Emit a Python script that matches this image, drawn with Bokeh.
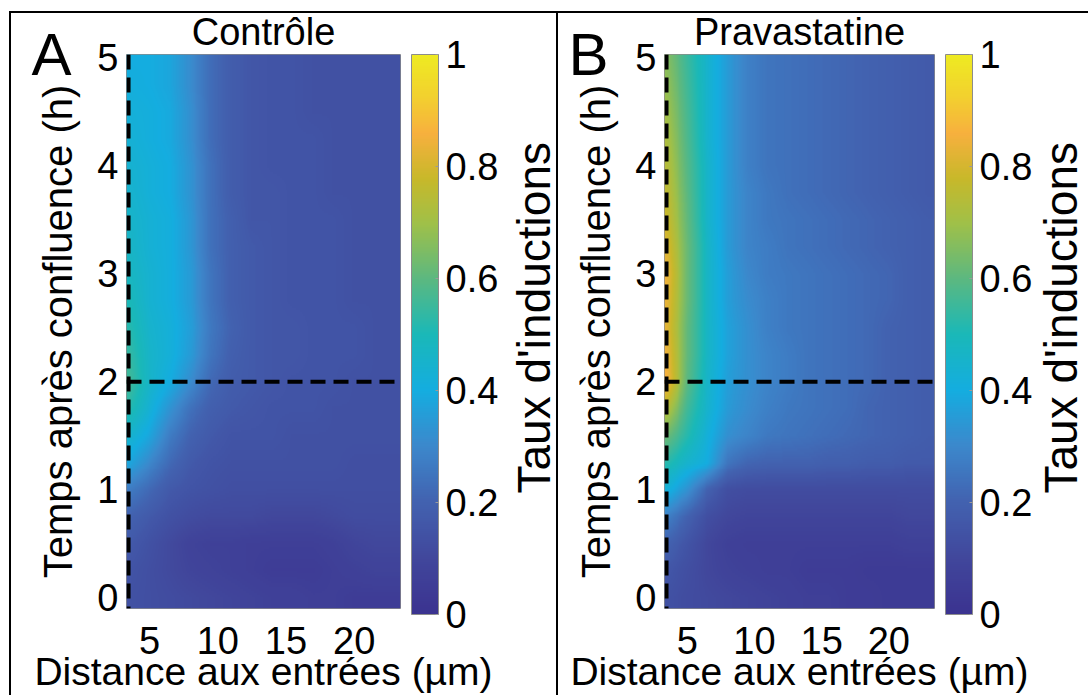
import numpy as np
from bokeh.plotting import figure
from bokeh.layouts import row
from bokeh.models import (LinearColorMapper, ColorBar, FixedTicker, Range1d, Span,
                          LinearAxis, CustomJSTickFormatter)
from bokeh.embed import file_html
from bokeh.resources import INLINE

FONT = "Liberation Sans"

# ---------------- data ----------------
x_cols = [3.5, 5.0, 6.5, 8.0, 9.5, 11.0, 12.5, 14.0, 15.5, 17.0, 18.5, 20.0, 21.5, 23.0]   # µm
t_rows = [0.0, 0.25, 0.5, 0.75, 1.0, 1.25, 1.5, 1.75, 2.0, 2.25, 2.5, 2.75, 3.0, 3.25,
          3.5, 3.75, 4.0, 4.25, 4.5, 4.75, 5.0]                                           # h

controle = [
    [0.14, 0.13, 0.12, 0.11, 0.10, 0.09, 0.08, 0.07, 0.07, 0.06, 0.06, 0.05, 0.05, 0.05],
    [0.15, 0.13, 0.11, 0.09, 0.08, 0.07, 0.06, 0.05, 0.05, 0.05, 0.06, 0.07, 0.08, 0.08],
    [0.17, 0.14, 0.11, 0.08, 0.07, 0.07, 0.06, 0.06, 0.06, 0.06, 0.07, 0.09, 0.10, 0.10],
    [0.20, 0.17, 0.14, 0.12, 0.11, 0.11, 0.11, 0.10, 0.10, 0.10, 0.11, 0.12, 0.12, 0.12],
    [0.27, 0.22, 0.17, 0.15, 0.14, 0.13, 0.13, 0.13, 0.13, 0.13, 0.13, 0.13, 0.13, 0.13],
    [0.38, 0.30, 0.22, 0.17, 0.15, 0.14, 0.14, 0.14, 0.14, 0.14, 0.14, 0.13, 0.13, 0.13],
    [0.45, 0.38, 0.27, 0.20, 0.17, 0.15, 0.15, 0.15, 0.14, 0.14, 0.14, 0.14, 0.14, 0.14],
    [0.52, 0.43, 0.33, 0.24, 0.19, 0.17, 0.16, 0.15, 0.15, 0.15, 0.14, 0.14, 0.14, 0.14],
    [0.56, 0.46, 0.40, 0.31, 0.22, 0.18, 0.17, 0.16, 0.15, 0.15, 0.15, 0.14, 0.14, 0.14],
    [0.54, 0.46, 0.42, 0.35, 0.25, 0.19, 0.17, 0.16, 0.16, 0.15, 0.15, 0.15, 0.14, 0.14],
    [0.52, 0.45, 0.42, 0.36, 0.26, 0.20, 0.17, 0.16, 0.16, 0.15, 0.15, 0.15, 0.14, 0.14],
    [0.50, 0.44, 0.41, 0.35, 0.25, 0.19, 0.17, 0.16, 0.15, 0.15, 0.15, 0.14, 0.14, 0.14],
    [0.48, 0.44, 0.41, 0.35, 0.25, 0.19, 0.17, 0.16, 0.15, 0.15, 0.15, 0.14, 0.14, 0.14],
    [0.47, 0.43, 0.41, 0.34, 0.24, 0.19, 0.17, 0.16, 0.15, 0.15, 0.15, 0.14, 0.14, 0.14],
    [0.46, 0.43, 0.41, 0.34, 0.24, 0.19, 0.16, 0.16, 0.15, 0.15, 0.15, 0.14, 0.14, 0.14],
    [0.45, 0.42, 0.40, 0.33, 0.24, 0.18, 0.16, 0.16, 0.15, 0.15, 0.14, 0.14, 0.14, 0.14],
    [0.44, 0.42, 0.40, 0.33, 0.24, 0.18, 0.16, 0.15, 0.15, 0.15, 0.14, 0.14, 0.14, 0.14],
    [0.43, 0.41, 0.39, 0.32, 0.23, 0.18, 0.16, 0.15, 0.15, 0.15, 0.14, 0.14, 0.14, 0.14],
    [0.42, 0.41, 0.39, 0.32, 0.23, 0.18, 0.16, 0.15, 0.15, 0.14, 0.14, 0.14, 0.14, 0.14],
    [0.41, 0.40, 0.38, 0.31, 0.23, 0.18, 0.16, 0.15, 0.15, 0.14, 0.14, 0.14, 0.14, 0.14],
    [0.40, 0.40, 0.38, 0.31, 0.23, 0.18, 0.16, 0.15, 0.15, 0.14, 0.14, 0.14, 0.14, 0.14],
]

pravastatine = [
    [0.14, 0.12, 0.11, 0.10, 0.09, 0.08, 0.07, 0.06, 0.06, 0.05, 0.05, 0.04, 0.04, 0.04],
    [0.16, 0.13, 0.10, 0.08, 0.07, 0.06, 0.06, 0.05, 0.05, 0.05, 0.04, 0.04, 0.04, 0.04],
    [0.20, 0.15, 0.10, 0.07, 0.06, 0.06, 0.06, 0.06, 0.06, 0.06, 0.06, 0.06, 0.07, 0.07],
    [0.28, 0.20, 0.13, 0.10, 0.09, 0.09, 0.09, 0.09, 0.09, 0.09, 0.09, 0.09, 0.10, 0.10],
    [0.42, 0.33, 0.20, 0.13, 0.12, 0.12, 0.12, 0.12, 0.12, 0.12, 0.12, 0.12, 0.12, 0.12],
    [0.52, 0.45, 0.40, 0.25, 0.21, 0.20, 0.20, 0.20, 0.19, 0.19, 0.18, 0.18, 0.17, 0.17],
    [0.62, 0.52, 0.42, 0.32, 0.29, 0.26, 0.25, 0.24, 0.23, 0.22, 0.21, 0.20, 0.19, 0.18],
    [0.74, 0.56, 0.45, 0.35, 0.31, 0.28, 0.26, 0.25, 0.24, 0.23, 0.21, 0.20, 0.19, 0.18],
    [0.86, 0.60, 0.46, 0.36, 0.32, 0.29, 0.27, 0.25, 0.24, 0.23, 0.22, 0.20, 0.19, 0.18],
    [0.84, 0.61, 0.47, 0.37, 0.32, 0.29, 0.27, 0.25, 0.24, 0.23, 0.22, 0.20, 0.19, 0.18],
    [0.82, 0.61, 0.47, 0.37, 0.32, 0.28, 0.26, 0.25, 0.24, 0.23, 0.22, 0.20, 0.19, 0.18],
    [0.83, 0.62, 0.47, 0.36, 0.31, 0.28, 0.26, 0.25, 0.24, 0.23, 0.22, 0.21, 0.19, 0.18],
    [0.84, 0.62, 0.47, 0.36, 0.30, 0.27, 0.26, 0.25, 0.24, 0.23, 0.22, 0.21, 0.19, 0.18],
    [0.81, 0.62, 0.47, 0.35, 0.29, 0.27, 0.25, 0.24, 0.23, 0.22, 0.21, 0.20, 0.19, 0.18],
    [0.78, 0.61, 0.46, 0.35, 0.29, 0.26, 0.25, 0.24, 0.23, 0.22, 0.21, 0.20, 0.19, 0.18],
    [0.76, 0.60, 0.46, 0.35, 0.29, 0.26, 0.24, 0.23, 0.22, 0.21, 0.20, 0.19, 0.18, 0.17],
    [0.74, 0.59, 0.46, 0.35, 0.28, 0.25, 0.24, 0.23, 0.22, 0.21, 0.20, 0.19, 0.18, 0.17],
    [0.72, 0.58, 0.45, 0.35, 0.28, 0.25, 0.24, 0.23, 0.22, 0.21, 0.20, 0.19, 0.18, 0.17],
    [0.70, 0.57, 0.45, 0.35, 0.28, 0.25, 0.24, 0.23, 0.22, 0.21, 0.20, 0.19, 0.18, 0.17],
    [0.68, 0.56, 0.45, 0.35, 0.28, 0.25, 0.24, 0.23, 0.22, 0.21, 0.20, 0.19, 0.18, 0.17],
    [0.66, 0.55, 0.45, 0.35, 0.28, 0.25, 0.24, 0.23, 0.22, 0.21, 0.20, 0.19, 0.18, 0.17],
]

x_ticks = [5, 10, 15, 20]
y_ticks = [0, 1, 2, 3, 4, 5]
cbar_ticks = [0, 0.2, 0.4, 0.6, 0.8, 1]
cbar_labels = ["0", "0.2", "0.4", "0.6", "0.8", "1"]
x_lim = (3.3, 23.4)
t_lim = (-0.1, 5.03)
entry_x = 3.45         # entrance position (dashed vertical)
threshold_t = 2.0      # dashed horizontal (h)

# ---------------- colour map (parula-like) ----------------
anchor_pos = [0.0, 0.10, 0.20, 0.30, 0.40, 0.50, 0.60, 0.70, 0.78, 0.86, 0.93, 1.0]
anchor_hex = ["#3b3390", "#41479c", "#4262b0", "#3c88cc", "#14ade0", "#1ab8b8",
              "#5cb880", "#a0c048", "#c8b82a", "#f7b03e", "#f2d22e", "#eeea22"]


def build_palette(n=256):
    rgb = np.array([[int(h[i:i + 2], 16) for i in (1, 3, 5)] for h in anchor_hex], float)
    out = []
    for v in np.linspace(0, 1, n):
        c = [np.interp(v, anchor_pos, rgb[:, k]) for k in range(3)]
        out.append("#%02x%02x%02x" % tuple(int(round(q)) for q in c))
    return out


palette = build_palette()


def shaded(grid, nx=280, nt=280):
    """Bilinear ('interp') shading of the read grid for display."""
    g = np.array(grid, dtype=float)
    fx = x_lim[0] + (np.arange(nx) + 0.5) * (x_lim[1] - x_lim[0]) / nx
    ft = t_lim[0] + (np.arange(nt) + 0.5) * (t_lim[1] - t_lim[0]) / nt
    gx = np.array([np.interp(fx, x_cols, r) for r in g])
    return np.array([np.interp(ft, t_rows, gx[:, j]) for j in range(nx)]).T


def blank_axis(**kw):
    return LinearAxis(ticker=FixedTicker(ticks=[]), axis_line_color=None,
                      major_tick_line_color=None, minor_tick_line_color=None,
                      major_tick_in=0, minor_tick_in=0, minor_tick_out=0, **kw)


def make_panel(title, letter, grid, width, fl, fr, ft, fb, letter_standoff, cb_standoff,
               styles):
    mapper = LinearColorMapper(palette=palette, low=0, high=1)
    p = figure(width=width, height=695, x_range=Range1d(*x_lim), y_range=Range1d(*t_lim),
               output_backend="svg", toolbar_location=None,
               min_border_left=fl, min_border_right=fr, min_border_top=ft,
               min_border_bottom=fb, title=title,
               border_fill_color=None, background_fill_color=None,
               outline_line_color="#8c8c8c", outline_line_width=1,
               styles=styles)
    p.title.align = "center"
    p.title.text_font = FONT
    p.title.text_font_size = "38px"
    p.title.text_font_style = "normal"
    p.title.text_color = "black"
    p.title.standoff = 4

    p.image(image=[shaded(grid)], x=x_lim[0], y=t_lim[0],
            dw=x_lim[1] - x_lim[0], dh=t_lim[1] - t_lim[0], color_mapper=mapper)

    p.add_layout(Span(location=entry_x, dimension="height", line_color="black",
                      line_width=4, line_dash="15 8"))
    p.add_layout(Span(location=threshold_t, dimension="width", line_color="black",
                      line_width=4, line_dash="15 8"))

    p.grid.visible = False
    for ax in (p.xaxis[0], p.yaxis[0]):
        ax.axis_line_color = None
        ax.major_tick_line_color = None
        ax.minor_tick_line_color = None
        ax.major_tick_out = 0
        ax.major_tick_in = 0
        ax.major_label_text_font = FONT
        ax.major_label_text_font_size = "38px"
        ax.major_label_text_color = "black"
        ax.axis_label_text_font = FONT
        ax.axis_label_text_font_size = "39px"
        ax.axis_label_text_font_style = "normal"
        ax.axis_label_text_color = "black"
    p.yaxis.axis_label_text_font_size = "40px"
    p.xaxis.ticker = FixedTicker(ticks=x_ticks)
    p.yaxis.ticker = FixedTicker(ticks=y_ticks)
    p.xaxis.axis_label = "Distance aux entrées (µm)"
    p.yaxis.axis_label = "Temps après confluence (h)"
    p.xaxis.major_label_standoff = 18
    p.xaxis.axis_label_standoff = -7
    p.yaxis.major_label_standoff = 8
    p.yaxis.axis_label_standoff = 14

    # panel letter (A / B), top-left
    lab = blank_axis(major_tick_out=0, major_label_standoff=letter_standoff,
                     major_label_text_font=FONT, major_label_text_font_size="60px",
                     major_label_text_color="black",
                     formatter=CustomJSTickFormatter(args=dict(letter=letter),
                                                     code="return letter"))
    lab.ticker = FixedTicker(ticks=[t_lim[1] - 0.001])
    p.add_layout(lab, "left")

    # gap between the map and the colour bar
    p.add_layout(blank_axis(major_tick_out=0, axis_label="\u00a0",
                            axis_label_text_font_size="1px", axis_label_standoff=7),
                 "right")

    cb = ColorBar(color_mapper=mapper, ticker=FixedTicker(ticks=cbar_ticks),
                  major_label_overrides={v: s for v, s in zip(cbar_ticks, cbar_labels)},
                  width=27, height=560, padding=0, margin=0, label_standoff=7,
                  major_label_text_font=FONT, major_label_text_font_size="38px",
                  major_label_text_color="black",
                  bar_line_color="#8c8c8c", major_tick_line_color="#9a9a9a",
                  major_tick_in=3, major_tick_out=0, minor_tick_line_color=None,
                  background_fill_color=None, border_line_color=None)
    p.add_layout(cb, "right")

    # colour-bar label, reading bottom to top
    props = LinearAxis.properties()
    cb_text = "Taux d'inductions"
    cbl = blank_axis(major_tick_out=0, axis_label_standoff=cb_standoff,
                     axis_label_text_font=FONT, axis_label_text_font_size="46px",
                     axis_label_text_font_style="normal", axis_label_text_color="black")
    if "axis_label_orientation" in props and "axis_label_align" in props:
        cbl.axis_label_orientation = np.pi / 2
        cbl.axis_label_align = "start"
        cb_text = "\u00a0" * 9 + cb_text
    cbl.axis_label = cb_text
    p.add_layout(cbl, "right")
    return p


styles_a = {"box-shadow": ("inset 0 11px 0 0 white, inset 9px 0 0 0 white, "
                           "inset 0 13px 0 0 black, inset 11px 0 0 0 black")}
styles_b = {"box-shadow": "inset 0 11px 0 0 white, inset 0 13px 0 0 black, "
                          "inset 2px 0 0 0 black",
            "margin-left": "-32px"}

pA = make_panel("Contrôle", "A", controle, 588, 126, 186, 54, 87, -38, 32, styles_a)
pB = make_panel("Pravastatine", "B", pravastatine, 559, 108, 179, 50, 87, -37, 25, styles_b)

layout = row(pA, pB, width=1088, styles={"overflow": "hidden", "width": "1088px"})
open("out.html", "w").write(file_html(layout, INLINE))
